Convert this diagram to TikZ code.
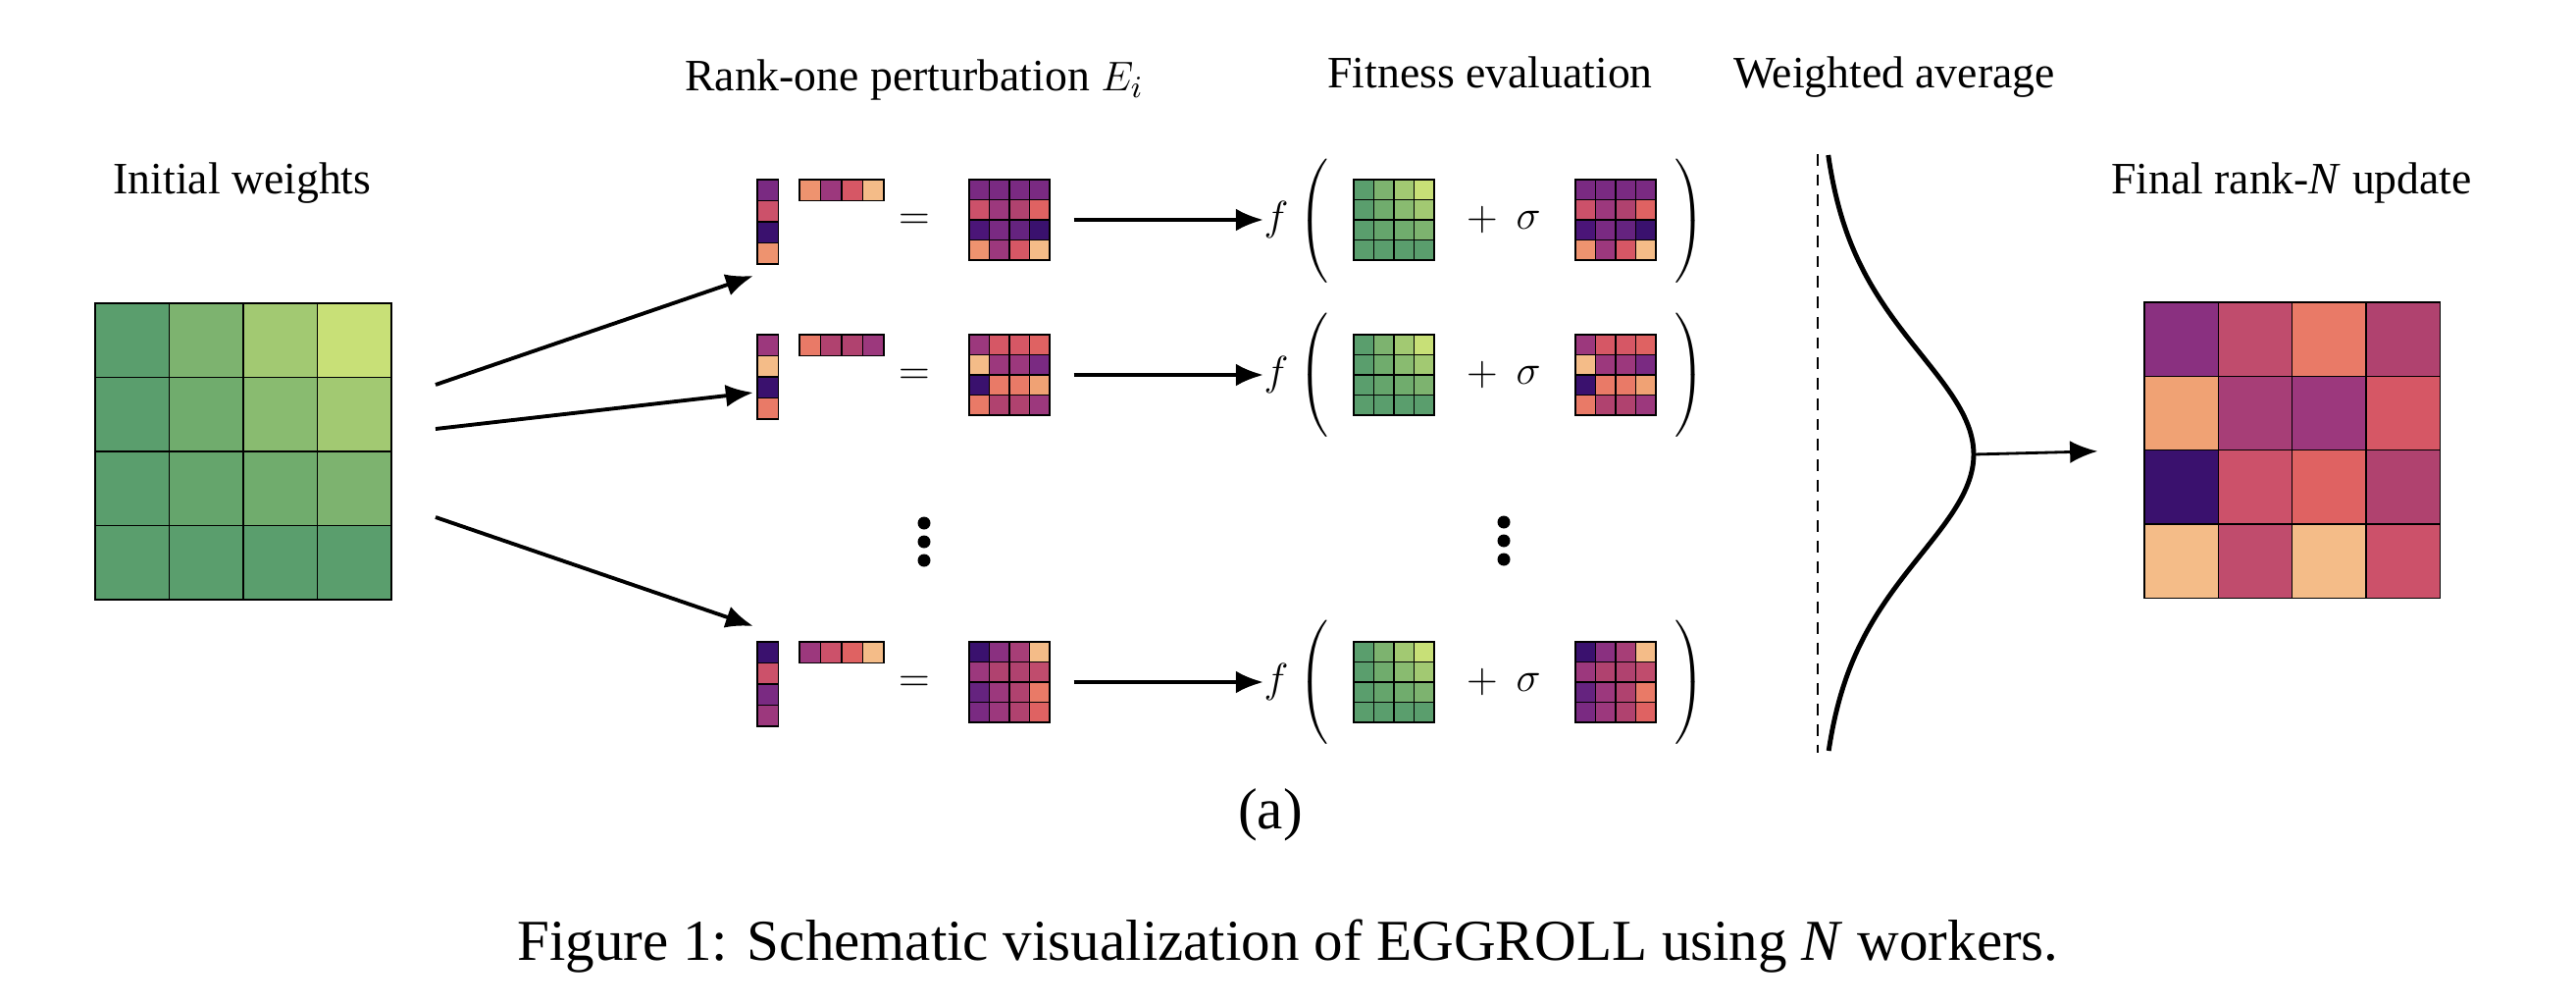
\documentclass[tikz,border=0pt]{standalone}
\usepackage{fontspec}
\setmainfont{Liberation Serif}
\usetikzlibrary{arrows.meta}

\definecolor{g0}{HTML}{5A9E6D}
\definecolor{g1}{HTML}{65A56C}
\definecolor{g2}{HTML}{70AC6D}
\definecolor{g3}{HTML}{7DB36F}
\definecolor{g4}{HTML}{89BB70}
\definecolor{g5}{HTML}{A2C972}
\definecolor{g6}{HTML}{C8E077}
\definecolor{m0}{HTML}{3A116E}
\definecolor{m1}{HTML}{4B1578}
\definecolor{m2}{HTML}{65237F}
\definecolor{m3}{HTML}{7A2A82}
\definecolor{m4}{HTML}{8A3080}
\definecolor{m5}{HTML}{9C387D}
\definecolor{m6}{HTML}{A73E77}
\definecolor{m7}{HTML}{B0426F}
\definecolor{m8}{HTML}{C04C6D}
\definecolor{m9}{HTML}{CC516A}
\definecolor{m10}{HTML}{D65765}
\definecolor{m11}{HTML}{DF6262}
\definecolor{m12}{HTML}{E97A67}
\definecolor{m13}{HTML}{EE936F}
\definecolor{m14}{HTML}{F0A274}
\definecolor{m15}{HTML}{F4BC88}

\tikzset{
  cell/.style={draw=black, line width=0.4pt},
  arr/.style={-{Latex[length=8pt,width=6.5pt]}, line width=1.1pt},
  lbl/.style={anchor=base, font=\fontsize{13}{15}\selectfont},
  big/.style={anchor=base, font=\fontsize{16.8}{20}\selectfont},
  sym/.style={inner sep=0pt, font=\fontsize{12}{14}\selectfont},
  paren/.style={inner sep=0pt, font=\fontsize{16}{19}\selectfont},
}

\newcommand{\cellmat}[7]{%
  \foreach \col [count=\k from 0] in {#7} {
    \pgfmathtruncatemacro{\ci}{mod(\k,#5)}
    \pgfmathtruncatemacro{\ri}{div(\k,#5)}
    \filldraw[cell, fill=\col] ({#2+\ci*#4},{#3+\ri*#4}) rectangle ++(#4,#4);
  }
  \node[inner sep=0pt, minimum width={#5*#4*0.01cm}, minimum height={#6*#4*0.01cm}]
    (#1) at ({#2+#5*#4/2},{#3+#6*#4/2}) {};
}
\newcommand{\greenmat}[4]{\cellmat{#1}{#2}{#3}{#4}{4}{4}{g0,g3,g5,g6,g0,g2,g4,g5,g0,g1,g2,g3,g0,g0,g0,g0}}
\newcommand{\bigparen}[1]{$\left#1\vcenter{\hbox{\rule{0pt}{38pt}}}\right.$}

\begin{document}
\begin{tikzpicture}[x=0.01cm, y=-0.01cm]
\useasboundingbox (0,0) rectangle (2626,1024);

\node[lbl] (tw) at (247,197) {Initial weights};
\node[lbl] (tr) at (932,93) {Rank-one perturbation $E_i$};
\node[lbl] (tf) at (1519,90) {Fitness evaluation};
\node[lbl] (ta) at (1931,90) {Weighted average};
\node[lbl] (tu) at (2336,197) {Final rank-\textit{N} update};

\greenmat{W}{97}{309}{75.5}

\cellmat{u1}{772}{183}{21.5}{1}{4}{m3,m9,m0,m13}
\cellmat{v1}{815}{183}{21.5}{4}{1}{m13,m5,m10,m15}
\node[sym] (e1) at (932,226) {$=$};
\cellmat{p1}{988}{183}{20.5}{4}{4}{m3,m3,m3,m3,m9,m5,m7,m11,m1,m3,m2,m0,m13,m5,m10,m15}
\node[sym, anchor=west] (f1) at (1288,224) {$f$};
\node[paren] (l1) at (1341,225) {\bigparen(};
\greenmat{w1}{1380}{183}{20.5}
\node[sym] (s1) at (1511,224) {$+$};
\node[sym] (g1) at (1558,224) {$\sigma$};
\cellmat{q1}{1606}{183}{20.5}{4}{4}{m3,m3,m3,m3,m9,m5,m7,m11,m1,m3,m2,m0,m13,m5,m10,m15}
\node[paren] (r1) at (1725,225) {\bigparen)};

\cellmat{u2}{772}{341}{21.5}{1}{4}{m5,m15,m0,m12}
\cellmat{v2}{815}{341}{21.5}{4}{1}{m12,m7,m7,m5}
\node[sym] (e2) at (932,384) {$=$};
\cellmat{p2}{988}{341}{20.5}{4}{4}{m5,m10,m10,m11,m15,m5,m5,m3,m0,m12,m12,m14,m12,m7,m7,m5}
\node[sym, anchor=west] (f2) at (1288,382) {$f$};
\node[paren] (l2) at (1341,382) {\bigparen(};
\greenmat{w2}{1380}{341}{20.5}
\node[sym] (s2) at (1511,382) {$+$};
\node[sym] (g2) at (1558,382) {$\sigma$};
\cellmat{q2}{1606}{341}{20.5}{4}{4}{m5,m10,m10,m11,m15,m5,m5,m3,m0,m12,m12,m14,m12,m7,m7,m5}
\node[paren] (r2) at (1725,382) {\bigparen)};

\cellmat{u3}{772}{654}{21.5}{1}{4}{m0,m9,m3,m5}
\cellmat{v3}{815}{654}{21.5}{4}{1}{m5,m9,m11,m15}
\node[sym] (e3) at (932,697) {$=$};
\cellmat{p3}{988}{654}{20.5}{4}{4}{m0,m4,m6,m15,m5,m7,m7,m8,m2,m5,m7,m12,m3,m5,m7,m11}
\node[sym, anchor=west] (f3) at (1288,695) {$f$};
\node[paren] (l3) at (1341,695) {\bigparen(};
\greenmat{w3}{1380}{654}{20.5}
\node[sym] (s3) at (1511,695) {$+$};
\node[sym] (g3) at (1558,695) {$\sigma$};
\cellmat{q3}{1606}{654}{20.5}{4}{4}{m0,m4,m6,m15,m5,m7,m7,m8,m2,m5,m7,m12,m3,m5,m7,m11}
\node[paren] (r3) at (1725,695) {\bigparen)};

\foreach \yy in {533,552,571} {
  \fill (942,\yy) circle[radius=6.5];
  \fill (1533,\yy-1) circle[radius=6.5];
}

\coordinate (a1) at (444,392);
\coordinate (a2) at (444,437);
\coordinate (a3) at (444,527);
\coordinate (b1) at (768,281);
\coordinate (b2) at (768,400);
\coordinate (b3) at (768,638);
\draw[arr] (a1) -- (b1);
\draw[arr] (a2) -- (b2);
\draw[arr] (a3) -- (b3);

\draw[arr, shorten <=0.24cm] (p1.east) -- (f1.west);
\draw[arr, shorten <=0.24cm] (p2.east) -- (f2.west);
\draw[arr, shorten <=0.24cm] (p3.east) -- (f3.west);

\draw[line width=0.45pt, dash pattern=on 3.3pt off 2.6pt] (1853,157) -- (1853,767);
\draw[line width=1.4pt] plot[domain=-305:302, samples=120, smooth] ({1852+160/(cosh(\x/154))^2}, {463+\x});
\coordinate (pk) at (2012,463);

\cellmat{F}{2186}{308}{75.3}{4}{4}{m4,m8,m12,m7,m14,m6,m5,m10,m0,m9,m11,m7,m15,m8,m15,m9}
\draw[arr, line width=0.8pt, shorten >=0.47cm] (pk) -- (F.west);

\node[big] (sub) at (1295,844) {(a)};
\node[big] (cap) at (1313,978) {Figure 1: Schematic visualization of EGGROLL using \textit{N} workers.};
\end{tikzpicture}
\end{document}
